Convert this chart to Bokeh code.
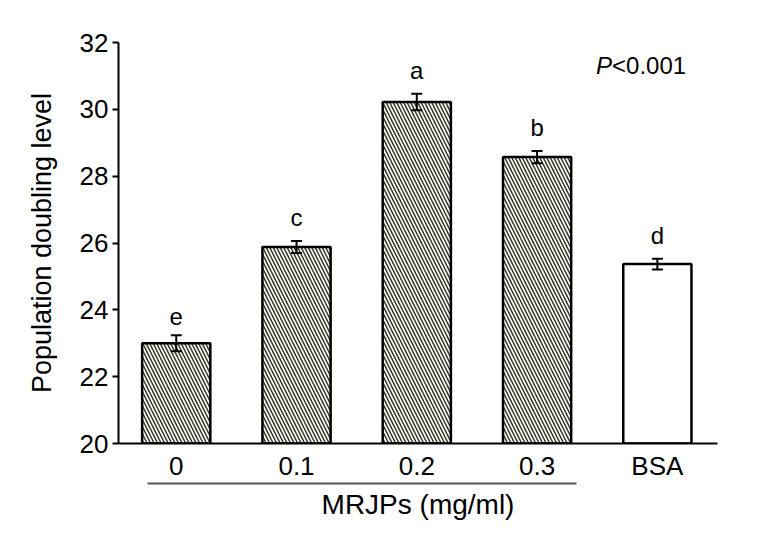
from bokeh.plotting import figure
from bokeh.models import (ColumnDataSource, Range1d, LinearAxis, FixedTicker,
                          Whisker, TeeHead, Label)
from bokeh.core.properties import value
from bokeh.embed import file_html
from bokeh.resources import INLINE

categories = ["0", "0.1", "0.2", "0.3", "BSA"]
values = [23.0, 25.88, 30.22, 28.57, 25.37]
errors = [0.24, 0.18, 0.25, 0.18, 0.16]
letters = ["e", "c", "a", "b", "d"]
hatched = [True, True, True, True, False]
y_ticks = [20, 22, 24, 26, 28, 30, 32]

FONT = "Liberation Sans"
xs = list(range(len(categories)))
src = ColumnDataSource(dict(
    x=xs, top=values,
    upper=[v + e for v, e in zip(values, errors)],
    lower=[v - e for v, e in zip(values, errors)],
    letter=letters,
    hatch=["\\" if h else " " for h in hatched],
))

p = figure(width=750, height=530, output_backend="svg", toolbar_location=None,
           x_range=Range1d(-0.48, 4.5), y_range=Range1d(20, 32),
           x_axis_type=None, y_axis_type=None,
           min_border_left=118, min_border_right=33, min_border_top=42,
           min_border_bottom=87)
p.title.visible = False
p.outline_line_color = None
p.xgrid.visible = False
p.ygrid.visible = False
p.background_fill_color = "white"
p.border_fill_color = "white"

# y axis
yax = LinearAxis(ticker=FixedTicker(ticks=y_ticks), axis_label="Population doubling level")
yax.axis_line_width = 2
yax.major_tick_line_width = 2
yax.major_tick_out = 6
yax.major_tick_in = 0
yax.minor_tick_out = 0
yax.minor_tick_in = 0
yax.major_label_standoff = 4
yax.major_label_text_font = FONT
yax.major_label_text_font_size = "26px"
yax.major_label_text_color = "black"
yax.axis_label_text_font = FONT
yax.axis_label_text_font_style = "normal"
yax.axis_label_text_font_size = "27px"
yax.axis_label_text_color = "black"
yax.axis_label_standoff = 20
p.add_layout(yax, "left")

# x axis with category labels
xax = LinearAxis(ticker=FixedTicker(ticks=xs),
                 major_label_overrides={i: c for i, c in zip(xs, categories)})
xax.axis_line_width = 2
xax.major_tick_out = 0
xax.major_tick_in = 0
xax.minor_tick_out = 0
xax.minor_tick_in = 0
xax.major_label_standoff = 7
xax.major_label_text_font = FONT
xax.major_label_text_font_size = "26px"
xax.major_label_text_color = "black"
p.add_layout(xax, "below")

# grouping line with label for MRJPs
gax = LinearAxis(ticker=FixedTicker(ticks=[]), bounds=(-0.242, 3.325),
                 axis_label="MRJPs (mg/ml)")
gax.axis_line_width = 2
gax.axis_line_color = "#555555"
gax.major_tick_out = 0
gax.major_tick_in = 0
gax.minor_tick_out = 0
gax.minor_tick_in = 0
gax.axis_label_standoff = 5
gax.axis_label_text_font = FONT
gax.axis_label_text_font_style = "normal"
gax.axis_label_text_font_size = "28px"
gax.axis_label_text_color = "black"
p.add_layout(gax, "below")

p.vbar(x="x", top="top", bottom=20, width=0.567, source=src,
       fill_color="white", line_color="black", line_width=2.5,
       hatch_pattern="hatch", hatch_color="#383826", hatch_scale=7,
       hatch_weight=1.5)

w = Whisker(base="x", upper="upper", lower="lower", source=src,
            line_width=2, line_color="black",
            upper_head=TeeHead(size=11, line_width=2, line_color="black"),
            lower_head=TeeHead(size=11, line_width=2, line_color="black"))
w.level = "overlay"
p.add_layout(w)

p.text(x="x", y="upper", text="letter", source=src, y_offset=-10,
       text_align="center", text_baseline="bottom",
       text_font=value(FONT), text_font_size="24px", text_color="black")

p.add_layout(Label(x=3.49, y=31.3, text="P", text_font=FONT,
                   text_font_style="italic", text_font_size="24px",
                   text_color="black",
                   text_baseline="middle", text_align="left"))
p.add_layout(Label(x=3.49, y=31.3, x_offset=16, text="<0.001", text_font=FONT,
                   text_font_size="24px", text_color="black",
                   text_baseline="middle", text_align="left"))

open("out.html", "w").write(file_html(p, INLINE))
